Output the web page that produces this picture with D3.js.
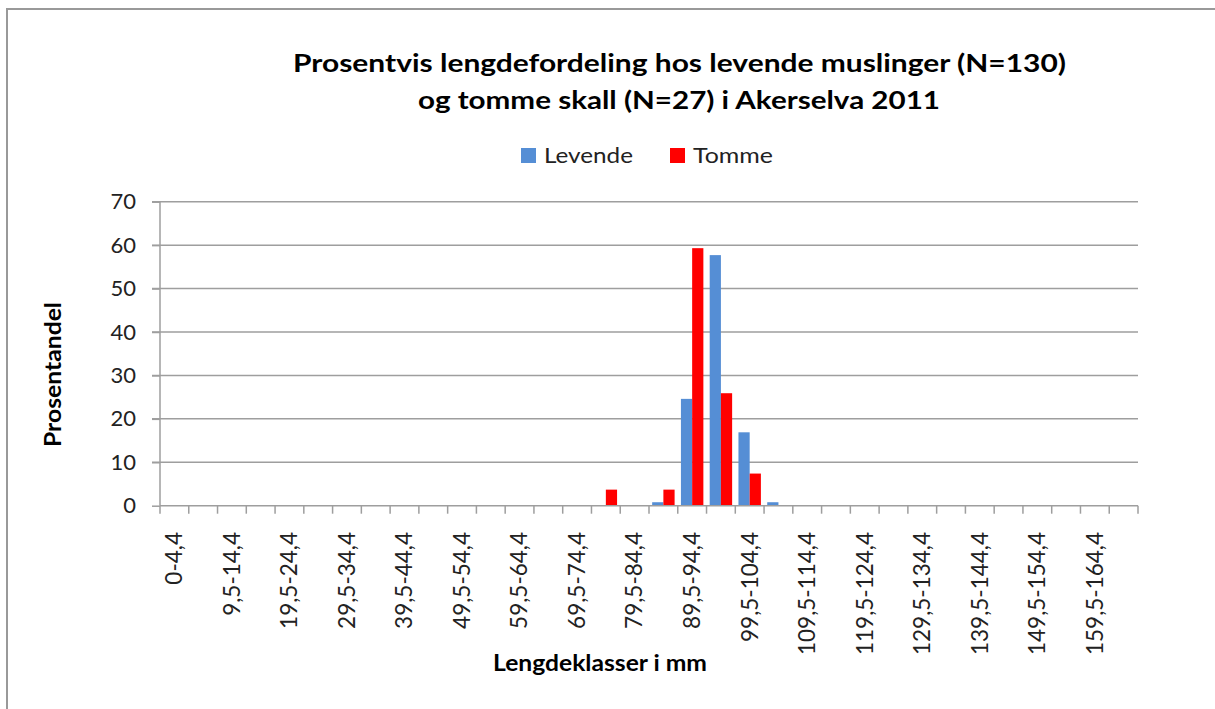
<!DOCTYPE html>
<html>
<head>
<meta charset="utf-8">
<script src="https://cdn.jsdelivr.net/npm/d3@7"></script>
<style>
  body { margin: 0; background: #fff; }
  text { font-family: Lato, "Open Sans", sans-serif; }
</style>
</head>
<body>
<div id="chart"></div>
<script>
// length classes (mm)
var categories = ["0-4,4", "4,5-9,4", "9,5-14,4", "14,5-19,4", "19,5-24,4", "24,5-29,4",
  "29,5-34,4", "34,5-39,4", "39,5-44,4", "44,5-49,4", "49,5-54,4", "54,5-59,4",
  "59,5-64,4", "64,5-69,4", "69,5-74,4", "74,5-79,4", "79,5-84,4", "84,5-89,4",
  "89,5-94,4", "94,5-99,4", "99,5-104,4", "104,5-109,4", "109,5-114,4", "114,5-119,4",
  "119,5-124,4", "124,5-129,4", "129,5-134,4", "134,5-139,4", "139,5-144,4", "144,5-149,4",
  "149,5-154,4", "154,5-159,4", "159,5-164,4", "164,5-169,4"];
// percent, living mussels (N=130)
var levende = [0, 0, 0, 0, 0, 0, 0, 0, 0, 0, 0, 0, 0, 0, 0, 0, 0, 0.8,
  24.6, 57.7, 16.9, 0.8, 0, 0, 0, 0, 0, 0, 0, 0, 0, 0, 0, 0];
// percent, empty shells (N=27)
var tomme = [0, 0, 0, 0, 0, 0, 0, 0, 0, 0, 0, 0, 0, 0, 0, 3.7, 0, 3.7,
  59.3, 25.9, 7.4, 0, 0, 0, 0, 0, 0, 0, 0, 0, 0, 0, 0, 0];
var seriesNames = ["Levende", "Tomme"];
var yTicks = [0, 10, 20, 30, 40, 50, 60, 70];

var w = 1215, h = 709;
var colors = ["#558ED5", "#FF0000"];
var pLeft = 160, pRight = 1138, pTop = 201.7, pBottom = 505.7;

var svg = d3.select("#chart").append("svg").attr("width", w).attr("height", h);

// chart frame
svg.append("rect").attr("x", 7).attr("y", 9).attr("width", w + 20).attr("height", h + 20)
  .attr("fill", "none").attr("stroke", "#999").attr("stroke-width", 2);

var xScale = d3.scaleBand().domain(categories).range([pLeft, pRight]);
var yScale = d3.scaleLinear().domain([0, 70]).range([pBottom, pTop]);
var bw = xScale.bandwidth();
var xSub = d3.scaleBand().domain(seriesNames).range([0, bw * 0.78]);
var subOff = (bw - bw * 0.78) / 2;

// gridlines
svg.append("g").selectAll("line").data(yTicks.slice(1)).enter().append("line")
  .attr("x1", pLeft - 8).attr("x2", pRight)
  .attr("y1", function(d) { return yScale(d); })
  .attr("y2", function(d) { return yScale(d); })
  .attr("stroke", "#9e9e9e").attr("stroke-width", 1.5);

// y axis
var yAxis = d3.axisLeft(yScale).tickValues(yTicks).tickSize(8).tickPadding(16);
var gy = svg.append("g").attr("transform", "translate(" + pLeft + ",0)").call(yAxis);
gy.select(".domain").attr("stroke", "#9e9e9e").attr("stroke-width", 1.5)
  .attr("d", "M0," + pTop + "V" + pBottom);
gy.selectAll(".tick line").attr("stroke", "#9e9e9e").attr("stroke-width", 1.5);
gy.selectAll(".tick text").style("font-size", "22px").attr("fill", "#222")
  .style("font-family", "Lato, sans-serif");

// bars
var data = categories.map(function(c, i) {
  return { cat: c, values: [levende[i], tomme[i]] };
});
var groups = svg.append("g").selectAll("g").data(data).enter().append("g")
  .attr("transform", function(d) { return "translate(" + (xScale(d.cat) + subOff) + ",0)"; });
groups.selectAll("rect").data(function(d) {
    return d.values.map(function(v, k) { return { key: seriesNames[k], value: v }; })
      .filter(function(e) { return e.value > 0; });
  }).enter().append("rect")
  .attr("x", function(d) { return xSub(d.key); })
  .attr("width", xSub.bandwidth())
  .attr("y", function(d) { return yScale(d.value); })
  .attr("height", function(d) { return pBottom - yScale(d.value); })
  .attr("fill", function(d) { return colors[seriesNames.indexOf(d.key)]; });

// x axis with ticks at category boundaries
svg.append("line").attr("x1", pLeft).attr("x2", pRight).attr("y1", pBottom).attr("y2", pBottom)
  .attr("stroke", "#9e9e9e").attr("stroke-width", 1.5);
var bounds = categories.map(function(c) { return xScale(c); }).concat([pRight]);
svg.append("g").selectAll("line").data(bounds).enter().append("line")
  .attr("x1", function(d) { return d; }).attr("x2", function(d) { return d; })
  .attr("y1", pBottom).attr("y2", pBottom + 8)
  .attr("stroke", "#9e9e9e").attr("stroke-width", 1.5);

// x labels, every other class
svg.append("g").selectAll("text").data(categories.filter(function(c, i) { return i % 2 === 0; }))
  .enter().append("text")
  .attr("transform", function(d) {
    return "translate(" + (xScale(d) + bw / 2) + "," + 532 + ") rotate(-90)";
  })
  .attr("text-anchor", "end").attr("dy", "0.35em")
  .style("font-size", "22.5px").attr("fill", "#222")
  .text(function(d) { return d; });

// titles
svg.append("text").attr("x", 679.5).attr("y", 72).attr("text-anchor", "middle")
  .style("font-size", "25px").style("font-weight", "bold")
  .attr("textLength", 773).attr("lengthAdjust", "spacingAndGlyphs")
  .text("Prosentvis lengdefordeling hos levende muslinger (N=130)");
svg.append("text").attr("x", 679).attr("y", 109).attr("text-anchor", "middle")
  .style("font-size", "25px").style("font-weight", "bold")
  .attr("textLength", 522).attr("lengthAdjust", "spacingAndGlyphs")
  .text("og tomme skall (N=27) i Akerselva 2011");

svg.append("text").attr("transform", "translate(61,374.5) rotate(-90)")
  .attr("text-anchor", "middle")
  .style("font-size", "22px").style("font-weight", "bold")
  .attr("textLength", 145).attr("lengthAdjust", "spacingAndGlyphs")
  .text("Prosentandel");

svg.append("text").attr("x", 600).attr("y", 671).attr("text-anchor", "middle")
  .style("font-size", "22px").style("font-weight", "bold")
  .attr("textLength", 214).attr("lengthAdjust", "spacingAndGlyphs")
  .text("Lengdeklasser i mm");

// legend
var legendX = [521, 670];
var legendW = [89, 80];
seriesNames.forEach(function(name, i) {
  svg.append("rect").attr("x", legendX[i]).attr("y", 148).attr("width", 15).attr("height", 15)
    .attr("fill", colors[i]);
  svg.append("text").attr("x", legendX[i] + 23).attr("y", 163)
    .style("font-size", "22px").attr("fill", "#222")
    .attr("textLength", legendW[i]).attr("lengthAdjust", "spacingAndGlyphs")
    .text(name);
});
</script>
</body>
</html>
